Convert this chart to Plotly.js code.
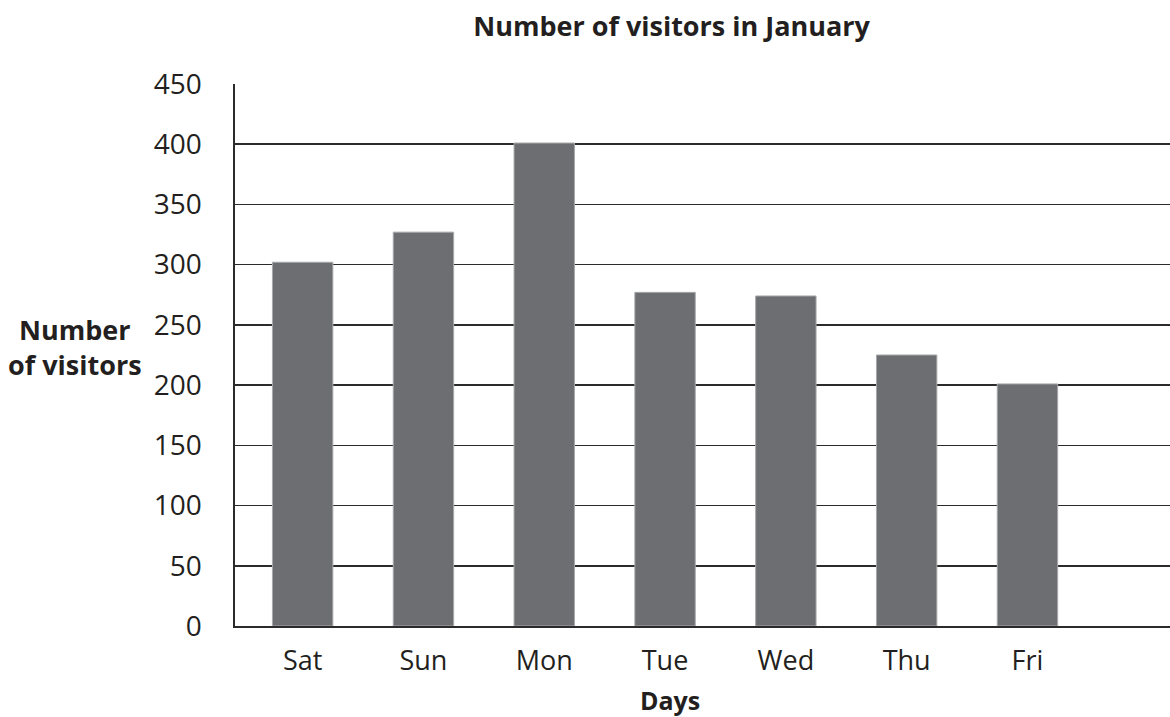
<!DOCTYPE html>
<html>
<head>
<meta charset="utf-8">
<script src="https://cdn.plot.ly/plotly-3.0.1.min.js"></script>
<style>html,body{margin:0;padding:0;background:#fff;}#chart{width:1170px;height:717px;}</style>
</head>
<body>
<div id="chart"></div>
<script>
const days = ["Sat", "Sun", "Mon", "Tue", "Wed", "Thu", "Fri"];
const visitors = [302, 327, 401, 277, 274, 225, 201];
const yTicks = [0, 50, 100, 150, 200, 250, 300, 350, 400, 450];

const FONT = "Open Sans, Lato, sans-serif";

const trace = {
  type: "bar",
  x: days,
  y: visitors,
  width: 0.5,
  marker: { color: "#6d6e71", line: { color: "#a7a8aa", width: 1 } },
  hoverinfo: "x+y"
};

const layout = {
  width: 1170,
  height: 717,
  margin: { l: 235, r: 0, t: 84, b: 91 },
  paper_bgcolor: "#ffffff",
  plot_bgcolor: "#ffffff",
  showlegend: false,
  font: { family: FONT, color: "#231f20", size: 27 },
  title: {
    text: "<b>Number of visitors in January</b>",
    font: { family: FONT, size: 27, color: "#231f20" },
    xref: "container", x: 0.574, xanchor: "center",
    yref: "container", y: 0.963, yanchor: "middle"
  },
  xaxis: {
    type: "category",
    range: [-0.56, 7.18],
    showgrid: false,
    showline: true,
    linecolor: "#2b2b2b",
    linewidth: 1.6,
    ticks: "",
    ticklabelstandoff: 10,
    tickfont: { family: FONT, size: 27, color: "#231f20" },
    zeroline: false,
    fixedrange: true
  },
  yaxis: {
    range: [0, 450],
    tickvals: yTicks,
    ticktext: yTicks.map(String),
    showgrid: true,
    gridcolor: "#2b2b2b",
    gridwidth: 1.5,
    showline: true,
    linecolor: "#2b2b2b",
    linewidth: 1.6,
    ticks: "",
    ticklabelstandoff: 26,
    tickfont: { family: FONT, size: 28, color: "#231f20" },
    zeroline: false,
    fixedrange: true
  },
  annotations: [
    {
      text: "<b>Number<br>of visitors</b>",
      xref: "paper", yref: "paper",
      x: -0.171, y: 0.515,
      xanchor: "center", yanchor: "middle",
      showarrow: false, align: "center",
      font: { family: FONT, size: 27, color: "#231f20" }
    },
    {
      text: "<b>Days</b>",
      xref: "paper", yref: "paper",
      x: (670 - 235) / 935, y: -(700 - 626) / 542,
      xanchor: "center", yanchor: "middle",
      showarrow: false,
      font: { family: FONT, size: 25, color: "#231f20" }
    }
  ]
};

Plotly.newPlot("chart", [trace], layout, { staticPlot: true, displayModeBar: false });
</script>
</body>
</html>
